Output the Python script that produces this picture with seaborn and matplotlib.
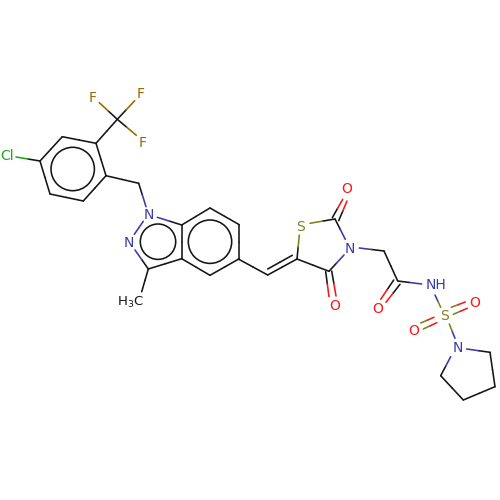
import matplotlib
matplotlib.use("Agg")
import matplotlib.pyplot as plt
from matplotlib.patches import Circle
import pandas as pd
import seaborn as sns

BLACK, BLUE, OLIVE, RED, BROWN, GREEN = "#151515", "#3a3aa8", "#808020", "#f81818", "#996600", "#1fa51f"

# bond end points: x0, y0, x1, y1, colour at start, colour at end
bond_x0 = [117.3,117.3,117.3,96,62.3,40,50,83.3,106,96,40,106,138.7,181.7,210,239.3,239.3,210,181.7,181.7,143.3,135,148.3,148.3,
           238.3,267.7,267.7,299.3,310,332.3,338.7,335,329,325.7,331.7,329,359.3,384,393.7,400,397.7,435,451.3,453.3,434,436.7,449.3,466.7,490,495,463.3,440.7]
bond_y0 = [119.3,119.3,119.3,143.3,136.7,161,194,201,175.7,143.3,161,175.7,183.3,225,208,224.7,258.7,275.3,258.7,225,221.3,250,269,269,
           259,275,269,235,223.3,217.7,220.7,219,271.3,271.7,271,271.3,248,251,280,284.3,281,295,307.3,314.3,317.3,322.7,324,349,352.3,386.7,400,375.7]
bond_x1 = [99.3,134.7,136.3,62.3,40,50,83.3,106,96,117.3,16,138.7,146,210,239.3,239.3,210,181.7,181.7,157.3,134.3,148.3,141.7,181.7,
           267.7,297,292.3,297,335,342.7,347,345.3,344,329,336,297,384,397.7,380.7,386,421.7,440.7,465.3,467.3,420.7,423.3,455,490,495,463.3,440.7,450.7]
bond_y1 = [102.7,100.7,135.3,136.7,161,194,201,175.7,143.3,119.3,157,183.3,206.7,208,224.7,258.7,275.3,258.7,225,217.3,234.3,269,291.7,258.7,
           275,259,255.3,259,219,199.3,201,239.3,255,296.7,296,259,251,281,299.3,302.3,284,307.3,302,308.3,323,329,338.3,352.3,386.7,400,375.7,356.7]
color0 = [BLACK,BLACK,BLACK,BLACK,BLACK,BLACK,BLACK,BLACK,BLACK,BLACK,BLACK,BLACK,BLACK,BLACK,BLACK,BLACK,BLACK,BLACK,BLACK,BLACK,BLUE,BLUE,BLACK,BLACK,
          BLACK,BLACK,BLACK,OLIVE,OLIVE,BLACK,BLACK,BLACK,BLACK,BLACK,BLACK,BLACK,BLUE,BLACK,BLACK,BLACK,BLACK,BLUE,OLIVE,OLIVE,RED,RED,OLIVE,BLUE,BLACK,BLACK,BLACK,BLACK]
color1 = [BROWN,BROWN,BROWN,BLACK,BLACK,BLACK,BLACK,BLACK,BLACK,BLACK,GREEN,BLACK,BLUE,BLACK,BLACK,BLACK,BLACK,BLACK,BLACK,BLUE,BLUE,BLACK,BLACK,BLACK,
          BLACK,BLACK,BLACK,BLACK,BLACK,RED,RED,BLUE,BLUE,RED,RED,BLACK,BLACK,BLACK,RED,RED,BLUE,OLIVE,RED,RED,OLIVE,OLIVE,BLUE,BLACK,BLACK,BLACK,BLACK,BLUE]

# aromatic ring circles
ring_x = [72.7, 210, 158]
ring_y = [169, 241.7, 241.7]
ring_r = [21.7, 21.7, 17.7]

# atom labels
label_text = ["F","F","F","Cl","N","N","S","O","N","O","O","NH","S","O","O","N"]
label_x = [92.3,140.3,142.3,7,149,129,300.3,346.7,349.7,334.7,378,436,444.7,475,413.7,458]
label_y = [97.7,94.3,142.7,155.7,215.3,242.7,227,189,248.7,306.3,309,285.3,316,302.7,330.7,347.7]
label_color = [BROWN,BROWN,BROWN,GREEN,BLUE,BLUE,OLIVE,RED,BLUE,RED,RED,BLUE,OLIVE,RED,RED,BLUE]

rows = []
seg = 0
for x0, y0, x1, y1, c0, c1 in zip(bond_x0, bond_y0, bond_x1, bond_y1, color0, color1):
    mx, my = (x0 + x1) / 2, (y0 + y1) / 2
    for a, b, c, d, col in ((x0, y0, mx, my, c0), (mx, my, x1, y1, c1)):
        rows += [dict(x=a, y=b, seg=seg, col=col), dict(x=c, y=d, seg=seg, col=col)]
        seg += 1
df = pd.DataFrame(rows)

sns.set_theme(style="white")
fig, ax = plt.subplots(figsize=(5, 5), dpi=100)
ax.set_position([0, 0, 1, 1])
sns.lineplot(data=df, x="x", y="y", units="seg", hue="col",
             palette={c: c for c in df["col"].unique()}, estimator=None, sort=False,
             legend=False, linewidth=1.15, ax=ax)
for l in ax.lines:
    l.set_solid_capstyle("round")
for x, y, r in zip(ring_x, ring_y, ring_r):
    ax.add_patch(Circle((x, y), r, fill=False, ec=BLACK, lw=1.15))
for t, x, y, c in zip(label_text, label_x, label_y, label_color):
    ax.text(x, y, t, color=c, fontsize=10, ha="center", va="center", family="DejaVu Sans")
ax.text(130.7, 302, "H$_3$C", color=BLACK, fontsize=9.5, ha="center", va="center", family="DejaVu Sans",
        math_fontfamily="dejavusans")
ax.set_xlim(0, 500)
ax.set_ylim(500, 0)
ax.axis("off")
fig.savefig("out.png", dpi=100)
